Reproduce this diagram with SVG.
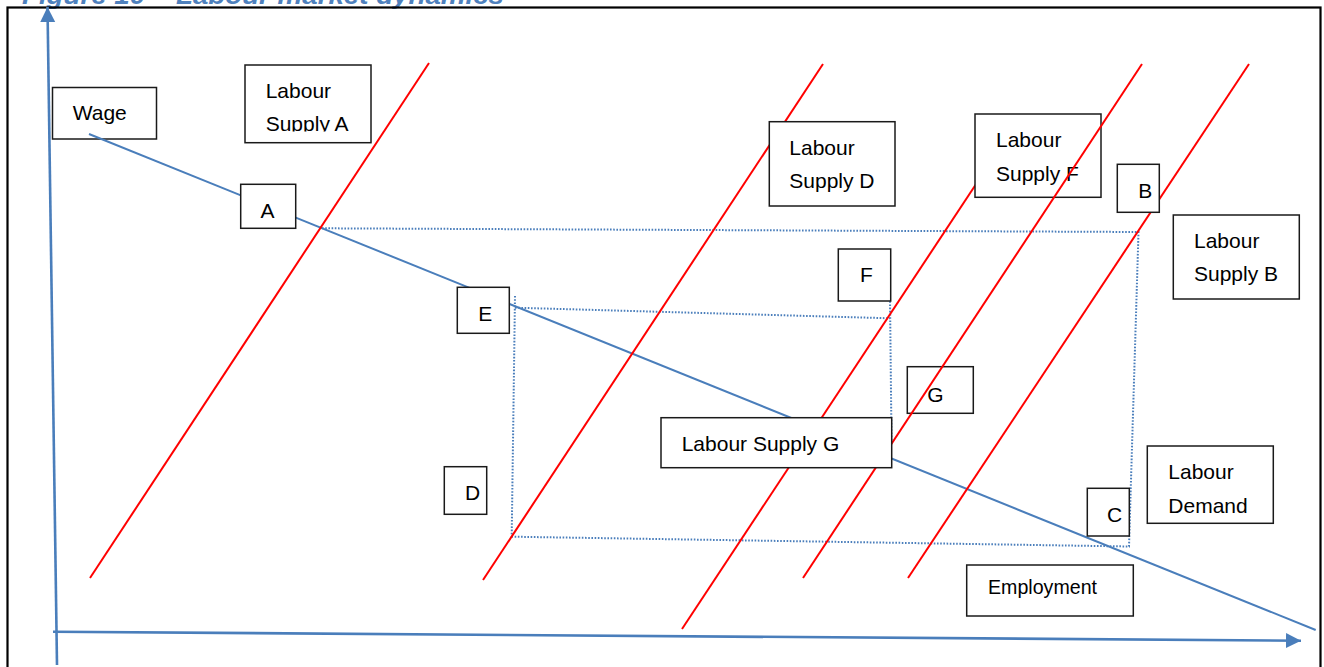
<svg xmlns="http://www.w3.org/2000/svg" width="1324" height="667" viewBox="0 0 1324 667">
<style>
.box{fill:#fff;stroke:#1a1a1a;stroke-width:1.5}
.lbl{font-family:"Liberation Sans",Arial,sans-serif;font-size:21px;fill:#000}
.axis{stroke:#4a7ebb;stroke-width:2.6;fill:none}
.dem{stroke:#4a7ebb;stroke-width:2;fill:none}
.sup{stroke:#ff0000;stroke-width:2;fill:none}
.dot{stroke:#4a7ebb;stroke-width:2;fill:none;stroke-dasharray:1.6 1.6}
</style>
<defs>
<marker id="arr" markerUnits="userSpaceOnUse" markerWidth="16" markerHeight="16" refX="15" refY="7.5" orient="auto">
<path d="M0,0 L15,7.5 L0,15 z" fill="#4a7ebb"/>
</marker>
<clipPath id="clipA"><rect x="245" y="65" width="126" height="66.5"/></clipPath>
</defs>
<rect x="0" y="0" width="1324" height="667" fill="#fff"/>
<text x="22" y="3.5" font-family="'Liberation Sans',Arial,sans-serif" font-size="26" font-weight="bold" font-style="italic" fill="#4f81bd" textLength="482" lengthAdjust="spacingAndGlyphs">Figure 10 – Labour market dynamics</text>
<rect x="7.5" y="7.5" width="1313" height="670" fill="none" stroke="#000" stroke-width="2.2"/>

<g id="axes">
<line class="axis" x1="57" y1="665" x2="47.5" y2="7" marker-end="url(#arr)"/>
<line class="axis" x1="53" y1="631.7" x2="1301" y2="640.7" marker-end="url(#arr)"/>
</g>

<g id="node-wage"><rect class="box" x="52.5" y="87.5" width="104" height="51.5"/><text class="lbl" x="72.7" y="120">Wage</text></g>

<g id="connectors">
<g id="dotted">
<polyline class="dot" points="322,228.3 1138.5,232 1129,546.5 511.7,536.7"/>
<polyline class="dot" points="515,296 511.7,536.7"/>
<polyline class="dot" points="515,307.7 890,318.3"/>
<polyline class="dot" points="890,298 891.5,440"/>
</g>
<line id="demand" class="dem" x1="89" y1="134" x2="1315.7" y2="630"/>
<line id="supply-a" class="sup" x1="90" y1="578" x2="429" y2="63"/>
<line id="supply-d" class="sup" x1="483" y1="580" x2="823" y2="64"/>
<line id="supply-g" class="sup" x1="682" y1="629" x2="990" y2="163"/>
<line id="supply-b" class="sup" x1="908" y1="578" x2="1249" y2="64"/>
</g>

<g id="node-labour-supply-a"><rect class="box" x="245" y="65" width="126" height="77.7"/><text class="lbl" x="265.7" y="97.7">Labour</text><text class="lbl" x="265.7" y="131" clip-path="url(#clipA)">Supply A</text></g>
<g id="node-a"><rect class="box" x="240.7" y="184.3" width="55" height="44"/><text class="lbl" x="267.5" y="217.7" text-anchor="middle">A</text></g>
<g id="node-e"><rect class="box" x="457.3" y="287.3" width="52" height="46"/><text class="lbl" x="478.3" y="320.7">E</text></g>
<g id="node-d"><rect class="box" x="444.3" y="466.7" width="42.4" height="47.6"/><text class="lbl" x="465" y="500">D</text></g>
<g id="node-labour-supply-d"><rect class="box" x="769.3" y="121.7" width="125.7" height="84.3"/><text class="lbl" x="789.3" y="155">Labour</text><text class="lbl" x="789.3" y="188.3">Supply D</text></g>
<g id="node-labour-supply-f"><rect class="box" x="975" y="114" width="126" height="83.3"/><text class="lbl" x="996" y="146.7">Labour</text><text class="lbl" x="996" y="180.7">Supply F</text></g>
<g id="node-b"><rect class="box" x="1117.3" y="164.3" width="42" height="48"/><text class="lbl" x="1138.3" y="197.7">B</text></g>
<g id="node-labour-supply-b"><rect class="box" x="1173.3" y="215" width="126" height="84"/><text class="lbl" x="1194" y="248.3">Labour</text><text class="lbl" x="1194" y="281">Supply B</text></g>
<g id="node-f"><rect class="box" x="838.3" y="249" width="52.4" height="52"/><text class="lbl" x="860" y="282.3">F</text></g>
<g id="node-g"><rect class="box" x="907.3" y="366.7" width="66" height="46.6"/><text class="lbl" x="927.3" y="401.7">G</text></g>
<g id="node-c"><rect class="box" x="1087.3" y="488.3" width="42" height="47.7"/><text class="lbl" x="1107" y="521.7">C</text></g>
<g id="node-labour-demand"><rect class="box" x="1147.3" y="446" width="126" height="77.3"/><text class="lbl" x="1168.3" y="479">Labour</text><text class="lbl" x="1168.3" y="512.7">Demand</text></g>
<g id="node-employment"><rect class="box" x="966.7" y="565" width="166.6" height="51"/><text class="lbl" x="988" y="594" font-size="19" textLength="109" lengthAdjust="spacingAndGlyphs">Employment</text></g>

<g id="connectors-top">
<line id="supply-f" class="sup" x1="803" y1="578" x2="1142" y2="64"/>
</g>

<g id="node-labour-supply-g"><rect class="box" x="661" y="417.7" width="230.7" height="50"/><text class="lbl" x="681.7" y="451">Labour Supply G</text></g>
</svg>
